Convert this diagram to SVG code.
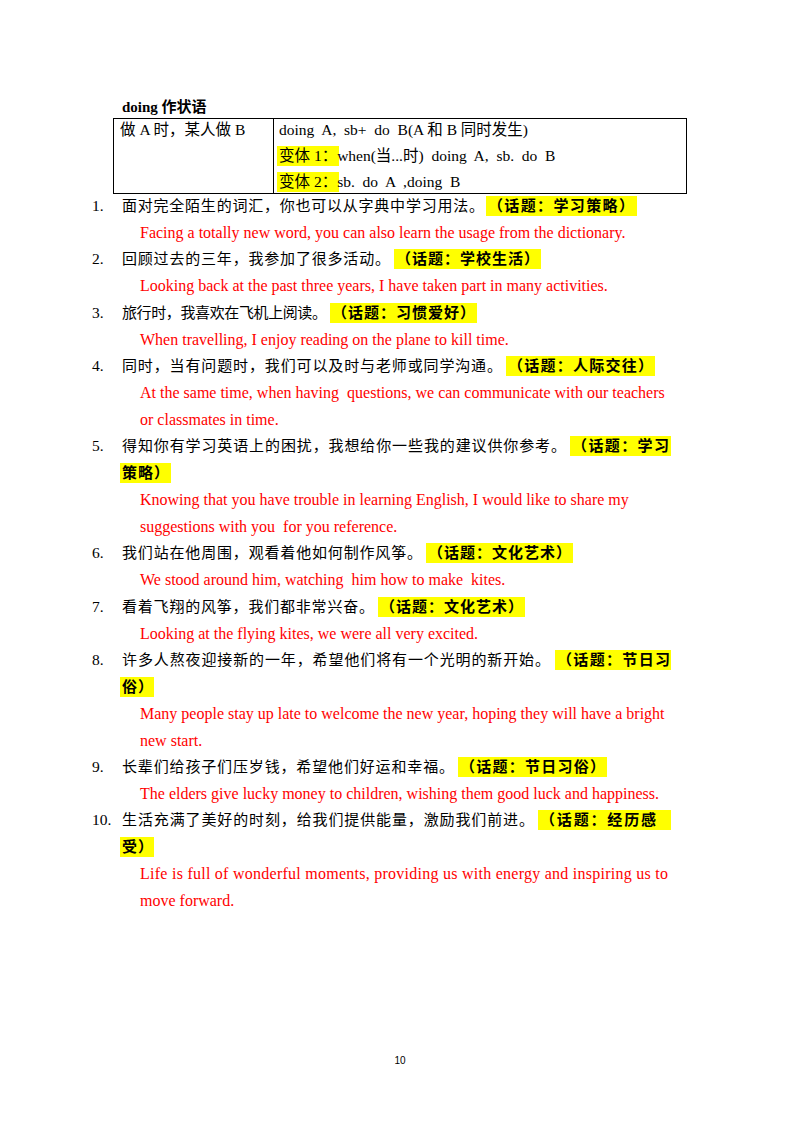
<svg xmlns="http://www.w3.org/2000/svg" width="800" height="1132" viewBox="0 0 800 1132">
<style>
.cn{font-family:"Liberation Serif","Noto Sans CJK SC",serif;font-size:15px;fill:#000}
.tb{font-family:"Liberation Serif","Noto Sans CJK SC",serif;font-size:15.5px;fill:#000;white-space:pre}
.tp{font-family:"Noto Sans CJK SC",sans-serif;font-size:15px;font-weight:bold;fill:#000}
.en{font-family:"Liberation Serif","Noto Sans CJK SC",serif;font-size:16px;fill:#ff0000;white-space:pre}
.hl{fill:#ffff00}
.num{font-family:"Liberation Serif",serif;font-size:15.5px;fill:#000}
</style>
<rect width="800" height="1132" fill="#fff"/>
<g id="table">
<text x="122" y="112" class="cn" font-weight="bold">doing 作状语</text>
<rect x="113.5" y="118.5" width="573" height="75" fill="none" stroke="#000" stroke-width="1"/>
<line x1="273.5" y1="118.5" x2="273.5" y2="193.5" stroke="#000"/>
<text x="120" y="135" class="tb">做 A 时，某人做 B</text>
<text x="279" y="135" class="tb">doing  A,  sb+  do  B(A 和 B 同时发生)</text>
<rect class="hl" x="277" y="146" width="62" height="20"/>
<text x="279" y="161" class="tb">变体 1：when(当...时)  doing  A,  sb.  do  B</text>
<rect class="hl" x="277" y="172" width="62" height="20"/>
<text x="279" y="187" class="tb">变体 2：sb.  do  A  ,doing  B</text>
</g>
<g id="highlights">
<rect class="hl" x="486" y="196" width="151" height="20"/>
<rect class="hl" x="394" y="249" width="147" height="20"/>
<rect class="hl" x="330" y="303" width="147" height="20"/>
<rect class="hl" x="506" y="356" width="149" height="20"/>
<rect class="hl" x="570" y="436" width="101" height="20"/>
<rect class="hl" x="120" y="463" width="51" height="20"/>
<rect class="hl" x="426" y="543" width="147" height="20"/>
<rect class="hl" x="378" y="597" width="147" height="20"/>
<rect class="hl" x="555" y="650" width="116" height="20"/>
<rect class="hl" x="120" y="677" width="34" height="20"/>
<rect class="hl" x="458" y="757" width="149" height="20"/>
<rect class="hl" x="538" y="810" width="133" height="20"/>
<rect class="hl" x="120" y="837" width="34" height="20"/>
</g>
<g id="item1">
<text x="92" y="211" class="num">1.</text>
<text x="122" y="211" class="cn" textLength="362">面对完全陌生的词汇，你也可以从字典中学习用法。</text>
<text x="488" y="211" class="tp" textLength="146">（话题：学习策略）</text>
<text x="140" y="238" class="en">Facing a totally new word, you can also learn the usage from the dictionary.</text>
</g>
<g id="item2">
<text x="92" y="264" class="num">2.</text>
<text x="122" y="264" class="cn" textLength="268">回顾过去的三年，我参加了很多活动。</text>
<text x="396" y="264" class="tp" textLength="143">（话题：学校生活）</text>
<text x="140" y="291" class="en">Looking back at the past three years, I have taken part in many activities.</text>
</g>
<g id="item3">
<text x="92" y="318" class="num">3.</text>
<text x="122" y="318" class="cn" textLength="205">旅行时，我喜欢在飞机上阅读。</text>
<text x="332" y="318" class="tp" textLength="143">（话题：习惯爱好）</text>
<text x="140" y="345" class="en">When travelling, I enjoy reading on the plane to kill time.</text>
</g>
<g id="item4">
<text x="92" y="371" class="num">4.</text>
<text x="122" y="371" class="cn" textLength="380">同时，当有问题时，我们可以及时与老师或同学沟通。</text>
<text x="508" y="371" class="tp" textLength="145">（话题：人际交往）</text>
<text x="140" y="398" class="en">At the same time, when having  questions, we can communicate with our teachers</text>
<text x="140" y="425" class="en">or classmates in time.</text>
</g>
<g id="item5">
<text x="92" y="451" class="num">5.</text>
<text x="122" y="451" class="cn" textLength="444">得知你有学习英语上的困扰，我想给你一些我的建议供你参考。</text>
<text x="572" y="451" class="tp" textLength="97">（话题：学习</text>
<text x="122" y="478" class="tp" textLength="47">策略）</text>
<text x="140" y="505" class="en">Knowing that you have trouble in learning English, I would like to share my</text>
<text x="140" y="532" class="en">suggestions with you  for you reference.</text>
</g>
<g id="item6">
<text x="92" y="558" class="num">6.</text>
<text x="122" y="558" class="cn" textLength="300">我们站在他周围，观看着他如何制作风筝。</text>
<text x="428" y="558" class="tp" textLength="143">（话题：文化艺术）</text>
<text x="140" y="585" class="en">We stood around him, watching  him how to make  kites.</text>
</g>
<g id="item7">
<text x="92" y="612" class="num">7.</text>
<text x="122" y="612" class="cn" textLength="252">看着飞翔的风筝，我们都非常兴奋。</text>
<text x="380" y="612" class="tp" textLength="143">（话题：文化艺术）</text>
<text x="140" y="639" class="en">Looking at the flying kites, we were all very excited.</text>
</g>
<g id="item8">
<text x="92" y="665" class="num">8.</text>
<text x="122" y="665" class="cn" textLength="428">许多人熬夜迎接新的一年，希望他们将有一个光明的新开始。</text>
<text x="557" y="665" class="tp" textLength="113">（话题：节日习</text>
<text x="122" y="692" class="tp" textLength="31">俗）</text>
<text x="140" y="719" class="en">Many people stay up late to welcome the new year, hoping they will have a bright</text>
<text x="140" y="746" class="en">new start.</text>
</g>
<g id="item9">
<text x="92" y="772" class="num">9.</text>
<text x="122" y="772" class="cn" textLength="332">长辈们给孩子们压岁钱，希望他们好运和幸福。</text>
<text x="460" y="772" class="tp" textLength="145">（话题：节日习俗）</text>
<text x="140" y="799" class="en">The elders give lucky money to children, wishing them good luck and happiness.</text>
</g>
<g id="item10">
<text x="92" y="825" class="num">10.</text>
<text x="122" y="825" class="cn" textLength="412">生活充满了美好的时刻，给我们提供能量，激励我们前进。</text>
<text x="540" y="825" class="tp" textLength="116">（话题：经历感</text>
<text x="122" y="852" class="tp" textLength="31">受）</text>
<text x="140" y="879" class="en" textLength="528">Life is full of wonderful moments, providing us with energy and inspiring us to</text>
<text x="140" y="906" class="en">move forward.</text>
</g>
<text x="400" y="1064" text-anchor="middle" font-family="Liberation Sans,sans-serif" font-size="10" fill="#000">10</text>
</svg>
